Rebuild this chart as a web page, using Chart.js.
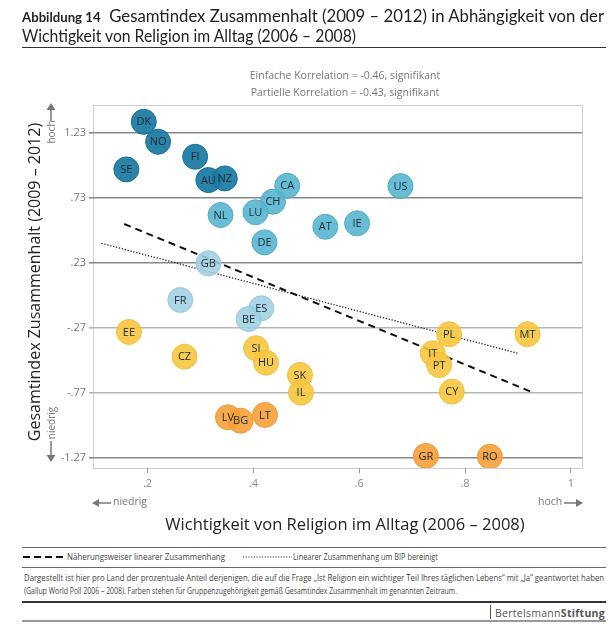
<!DOCTYPE html>
<html>
<head>
<meta charset="utf-8">
<script src="https://cdn.jsdelivr.net/npm/chart.js@4.4.1/dist/chart.umd.min.js"></script>
<style>
  html, body { margin:0; padding:0; background:#fff; }
  body { width:616px; height:629px; position:relative; overflow:hidden; font-family:"Open Sans", sans-serif; }
  #wrap { position:absolute; left:0; top:0; width:616px; height:500px; }
  .abs { position:absolute; white-space:nowrap; }
  .fit { transform-origin:0 0; display:inline-block; }
  .hr { position:absolute; left:22px; width:584px; }
</style>
</head>
<body>
<div id="wrap"><canvas id="c" width="616" height="500"></canvas></div>

<div class="abs fit" id="t1" data-w="582" style="left:22px; top:6px; font-family:Lato, sans-serif; font-size:16.5px; color:#222;"><b style="font-size:13px;">Abbildung 14</b>&nbsp; Gesamtindex Zusammenhalt (2009 – 2012) in Abhängigkeit von der</div>
<div class="abs fit" id="t2" data-w="334" style="left:22px; top:26px; font-family:Lato, sans-serif; font-size:16.5px; color:#222;">Wichtigkeit von Religion im Alltag (2006 – 2008)</div>
<div class="hr" style="top:47px; height:1px; background:#333;"></div>

<div class="abs" style="left:245px; top:67px; width:200px; text-align:center; font-size:10.5px; color:#777; line-height:17px;">Einfache Korrelation = -0.46, signifikant<br>Partielle Korrelation = -0.43, signifikant</div>

<!-- y axis title -->
<div class="abs" style="left:34px; top:282px; transform:translate(-50%,-50%) rotate(-90deg); font-size:16px; color:#222;">Gesamtindex Zusammenhalt (2009 – 2012)</div>
<div class="abs" style="left:51px; top:132px; transform:translate(-50%,-50%) rotate(-90deg); font-size:10px; color:#777;">hoch</div>
<div class="abs" style="left:51px; top:423px; transform:translate(-50%,-50%) rotate(-90deg); font-size:10px; color:#777;">niedrig</div>
<svg class="abs" style="left:44px; top:103px;" width="14" height="20"><line x1="7" y1="4" x2="7" y2="18" stroke="#777" stroke-width="1.5"/><polygon points="7,0 2.5,7 11.5,7" fill="#777"/></svg>
<svg class="abs" style="left:44px; top:441px;" width="14" height="22"><line x1="7" y1="0" x2="7" y2="16" stroke="#777" stroke-width="1.5"/><polygon points="7,21 2.5,14 11.5,14" fill="#777"/></svg>

<!-- x axis extra labels -->
<svg class="abs" style="left:92px; top:497px;" width="20" height="12"><line x1="5" y1="6" x2="19" y2="6" stroke="#777" stroke-width="1.5"/><polygon points="0,6 7,2 7,10" fill="#777"/></svg>
<div class="abs" style="left:113px; top:494px; font-size:10.5px; color:#777;">niedrig</div>
<div class="abs" style="left:538px; top:494px; font-size:10.5px; color:#777;">hoch</div>
<svg class="abs" style="left:564px; top:497px;" width="20" height="12"><line x1="0" y1="6" x2="14" y2="6" stroke="#777" stroke-width="1.5"/><polygon points="19,6 12,2 12,10" fill="#777"/></svg>
<div class="abs" style="left:345px; top:523px; transform:translate(-50%,-50%); font-size:16.5px; color:#222;">Wichtigkeit von Religion im Alltag (2006 – 2008)</div>

<!-- footer -->
<div class="hr" style="top:547px; height:1px; background:#666;"></div>
<svg class="abs" style="left:23px; top:553px;" width="42" height="8"><line x1="0" y1="4" x2="41" y2="4" stroke="#111" stroke-width="2" stroke-dasharray="7,4"/></svg>
<div class="abs fit" data-w="158" style="left:67px; top:551px; font-size:8.5px; color:#444;">Näherungsweiser linearer Zusammenhang</div>
<svg class="abs" style="left:243px; top:553px;" width="50" height="8"><line x1="0" y1="4" x2="49" y2="4" stroke="#333" stroke-width="1.2" stroke-dasharray="1.2,1.5"/></svg>
<div class="abs fit" data-w="145" style="left:293px; top:551px; font-size:8.5px; color:#444;">Linearer Zusammenhang um BIP bereinigt</div>
<div class="hr" style="top:567px; height:1px; background:#666;"></div>
<div class="abs fit" data-w="580" style="left:24px; top:572px; font-size:8.5px; color:#444;">Dargestellt ist hier pro Land der prozentuale Anteil derjenigen, die auf die Frage „Ist Religion ein wichtiger Teil Ihres täglichen Lebens“ mit „Ja“ geantwortet haben</div>
<div class="abs fit" data-w="433" style="left:24px; top:585px; font-size:8.5px; color:#444;">(Gallup World Poll 2006 – 2008). Farben stehen für Gruppenzugehörigkeit gemäß Gesamtindex Zusammenhalt im genannten Zeitraum.</div>
<div class="hr" style="top:601px; height:1.5px; background:#333;"></div>
<div class="abs" style="left:490px; top:605px; width:1px; height:14px; background:#555;"></div>
<div class="abs fit" data-w="110" style="left:495px; top:605px; font-size:11px; color:#555; letter-spacing:0.3px;">Bertelsmann<b>Stiftung</b></div>
<div class="hr" style="top:620px; height:2px; background:#999;"></div>

<script>
// ---- data ----
const codes    = ["DK","NO","SE","FI","AU","NZ","CA","CH","LU","NL","DE","AT","IE","US","GB","FR","ES","BE","EE","CZ","SI","HU","SK","IL","LV","BG","LT","PL","MT","IT","PT","CY","GR","RO"];
const religion = [0.193,0.220,0.160,0.290,0.315,0.346,0.464,0.437,0.404,0.338,0.421,0.536,0.596,0.678,0.315,0.262,0.415,0.391,0.165,0.270,0.405,0.424,0.488,0.490,0.352,0.376,0.422,0.770,0.918,0.739,0.751,0.775,0.726,0.847];
const cohesion = [1.311,1.158,0.946,1.043,0.864,0.877,0.820,0.698,0.617,0.596,0.386,0.506,0.532,0.818,0.225,-0.056,-0.120,-0.202,-0.301,-0.491,-0.426,-0.537,-0.631,-0.767,-0.956,-0.982,-0.938,-0.319,-0.319,-0.465,-0.555,-0.759,-1.252,-1.258];
const group    = [0,0,0,0,0,0,1,1,1,1,1,1,1,1,2,2,2,2,3,3,3,3,3,3,4,4,4,3,3,3,3,3,4,4];
const groupFill   = ["rgba(26,122,163,0.93)","rgba(88,182,207,0.9)","rgba(160,208,226,0.88)","rgba(246,198,62,0.9)","rgba(246,160,58,0.9)"];
const groupBorder = ["#1a6f95","#53aac4","#98c8da","#f0c040","#f09a35"];
const dashedX = [0.156, 0.929], dashedY = [0.527, -0.767];
const dottedX = [0.113, 0.900], dottedY = [0.379, -0.465];
const xTicks = [0.2, 0.4, 0.6, 0.8, 1];
const yTicks = [1.23, 0.73, 0.23, -0.27, -0.77, -1.27];

const fmt = v => { const s = (Math.round(v*100)/100).toString(); return s.replace(/^(-?)0\./, "$1."); };

const datasets = [];
for (let g = 0; g < 5; g++) {
  const pts = [], labs = [];
  codes.forEach((c, i) => { if (group[i] === g) { pts.push({x: religion[i], y: cohesion[i]}); labs.push(c); } });
  datasets.push({ type:"scatter", data: pts, codes: labs, backgroundColor: groupFill[g], borderColor: groupBorder[g],
    borderWidth: 1, pointRadius: 12.5, pointHoverRadius: 12.5, order: 1 });
}
datasets.push({ type:"line", data: dashedX.map((x,i)=>({x, y: dashedY[i]})), borderColor:"#111", borderWidth:2,
  borderDash:[7,5], pointRadius:0, fill:false, order: 5 });
datasets.push({ type:"line", data: dottedX.map((x,i)=>({x, y: dottedY[i]})), borderColor:"#222", borderWidth:1.3,
  borderDash:[1.3,1.7], pointRadius:0, fill:false, order: 6 });

const frame = {
  id:"frame",
  beforeDraw(chart) {
    const a = chart.chartArea, ctx = chart.ctx;
    ctx.save(); ctx.strokeStyle = "#cfcfcf"; ctx.lineWidth = 1;
    ctx.strokeRect(Math.round(a.left)+0.5, Math.round(a.top)+0.5, Math.round(a.right-a.left), Math.round(a.bottom-a.top));
    ctx.restore();
  }
};
const labels = {
  id:"labels",
  afterDatasetsDraw(chart) {
    const ctx = chart.ctx;
    ctx.save();
    ctx.font = "11px 'Open Sans'"; ctx.textAlign = "center"; ctx.textBaseline = "middle"; ctx.fillStyle = "#1e2a33";
    chart.data.datasets.forEach((ds, di) => {
      if (!ds.codes) return;
      chart.getDatasetMeta(di).data.forEach((el, i) => ctx.fillText(ds.codes[i], el.x, el.y + 0.5));
    });
    ctx.restore();
  }
};

new Chart(document.getElementById("c"), {
  data: { datasets },
  options: {
    responsive:false, animation:false, devicePixelRatio:1,
    layout:{ padding:{ top:105, right:34, left:0, bottom:0 } },
    plugins:{ legend:{display:false}, tooltip:{enabled:false} },
    scales:{
      x:{ type:"linear", min:0.097, max:1.021,
        afterBuildTicks: s => { s.ticks = xTicks.map(v => ({value:v})); },
        afterFit: s => { s.height = 32; },
        ticks:{ callback: v => fmt(v), color:"#888", font:{family:"Open Sans", size:11}, padding:4, maxRotation:0, autoSkip:false },
        grid:{ drawOnChartArea:false, drawTicks:true, tickLength:5, color:"#999" },
        border:{ display:false } },
      y:{ type:"linear", min:-1.345, max:1.44,
        afterBuildTicks: s => { s.ticks = yTicks.map(v => ({value:v})); },
        afterFit: s => { s.width = 93; },
        ticks:{ callback: v => fmt(v), color:"#777", font:{family:"Open Sans", size:11}, padding:3, autoSkip:false },
        grid:{ color: c => (c.tick && (Math.abs(c.tick.value + 0.27) < 0.01 || Math.abs(c.tick.value + 0.77) < 0.01)) ? "#b5b5b5" : "#888",
               lineWidth:1.6, tickLength:4, drawTicks:true },
        border:{ display:false } }
    }
  },
  plugins:[frame, labels]
});

// fit condensed text lines to their measured widths
document.querySelectorAll(".fit").forEach(el => {
  const w = parseFloat(el.dataset.w), cur = el.getBoundingClientRect().width;
  if (w && cur) el.style.transform = "scaleX(" + (w/cur).toFixed(4) + ")";
});
</script>
</body>
</html>
